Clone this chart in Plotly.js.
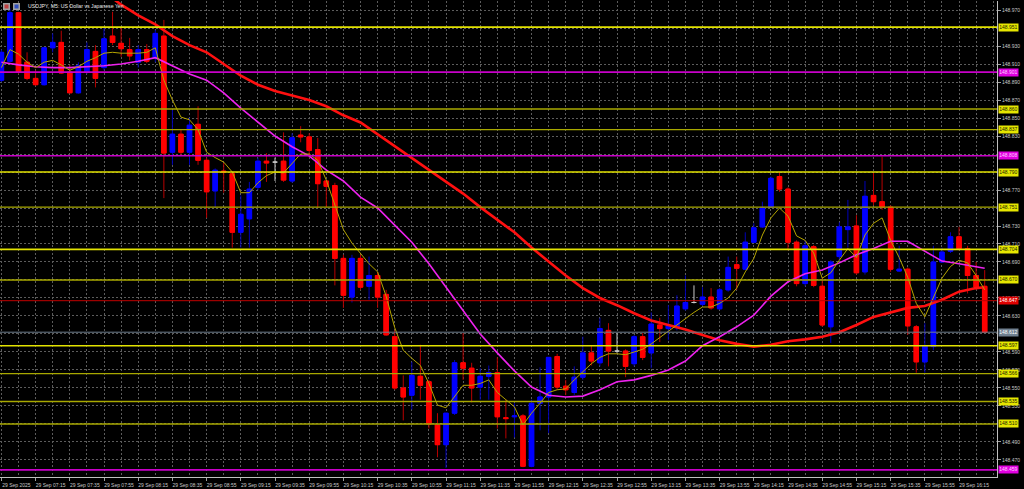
<!DOCTYPE html>
<html><head><meta charset="utf-8">
<script src="https://cdn.plot.ly/plotly-3.0.1.min.js"></script>
<style>html,body{margin:0;padding:0;background:#000;}#chart{width:1024px;height:489px;}</style>
</head><body><div id="chart"></div>
<script>
// ---- data (USDJPY M5, 29 Sep 2025, bar index 0 = 06:55) ----
const tickLabels = ['29 Sep 2025','29 Sep 07:15','29 Sep 07:35','29 Sep 07:55','29 Sep 08:15','29 Sep 08:35','29 Sep 08:55',
 '29 Sep 09:15','29 Sep 09:35','29 Sep 09:55','29 Sep 10:15','29 Sep 10:35','29 Sep 10:55','29 Sep 11:15','29 Sep 11:35',
 '29 Sep 11:55','29 Sep 12:15','29 Sep 12:35','29 Sep 12:55','29 Sep 13:15','29 Sep 13:35','29 Sep 13:55','29 Sep 14:15',
 '29 Sep 14:35','29 Sep 14:55','29 Sep 15:15','29 Sep 15:35','29 Sep 15:55','29 Sep 16:15'];

const opens = [148.892,148.913,148.967,148.912,148.894,148.887,148.928,148.934,148.901,148.878,
 148.901,148.924,148.906,148.941,148.933,148.926,148.912,148.926,148.917,148.941,
 148.812,148.832,148.812,148.843,148.803,148.769,148.791,148.788,148.723,148.738,
 148.773,148.802,148.801,148.802,148.780,148.831,148.829,148.815,148.780,148.775,
 148.694,148.651,148.694,148.663,148.675,148.654,148.607,148.550,148.542,148.563,
 148.557,148.509,148.487,148.522,148.578,148.572,148.551,148.563,148.567,148.517,
 148.518,148.519,148.463,148.533,148.540,148.585,148.552,148.545,148.562,148.589,
 148.578,148.614,148.591,148.591,148.577,148.607,148.589,148.620,148.616,148.617,
 148.638,148.645,148.643,148.651,148.638,148.659,148.687,148.682,148.712,148.729,
 148.751,148.785,148.771,148.712,148.666,148.707,148.663,148.618,148.696,148.726,
 148.730,148.679,148.764,148.757,148.751,148.680,148.682,148.618,148.579,148.596,
 148.690,148.702,148.718,148.705,148.675,148.663];
const highs = [148.926,148.972,148.968,148.923,148.903,148.929,148.944,148.947,148.909,148.912,
 148.934,148.931,148.950,148.968,148.951,148.939,148.931,148.932,148.948,148.959,
 148.859,148.837,148.850,148.863,148.806,148.794,148.800,148.790,148.764,148.779,
 148.806,148.811,148.806,148.834,148.833,148.841,148.833,148.828,148.781,148.778,
 148.698,148.698,148.698,148.696,148.679,148.659,148.614,148.564,148.579,148.598,
 148.559,148.522,148.522,148.581,148.611,148.578,148.572,148.575,148.584,148.537,
 148.533,148.521,148.537,148.573,148.584,148.588,148.559,148.574,148.607,148.597,
 148.628,148.622,148.611,148.593,148.609,148.611,148.634,148.628,148.642,148.653,
 148.675,148.664,148.662,148.661,148.661,148.696,148.696,148.723,148.733,148.757,
 148.785,148.790,148.773,148.714,148.714,148.709,148.672,148.692,148.734,148.759,
 148.742,148.780,148.789,148.807,148.753,148.708,148.684,148.620,148.622,148.708,
 148.706,148.723,148.729,148.708,148.690,148.681];
const lows = [148.890,148.912,148.899,148.892,148.886,148.886,148.923,148.899,148.878,148.877,
 148.899,148.884,148.903,148.931,148.918,148.914,148.906,148.911,148.912,148.761,
 148.798,148.809,148.798,148.798,148.739,148.750,148.767,148.706,148.706,148.706,
 148.770,148.779,148.780,148.779,148.778,148.823,148.806,148.750,148.751,148.664,
 148.639,148.645,148.659,148.648,148.639,148.608,148.548,148.514,148.526,148.537,
 148.505,148.473,148.461,148.520,148.559,148.534,148.537,148.537,148.505,148.494,
 148.495,148.462,148.462,148.503,148.500,148.548,148.542,148.542,148.559,148.575,
 148.574,148.574,148.589,148.562,148.574,148.581,148.572,148.601,148.603,148.614,
 148.636,148.644,148.641,148.637,148.637,148.657,148.659,148.681,148.711,148.728,
 148.750,148.768,148.703,148.663,148.663,148.662,148.618,148.600,148.692,148.706,
 148.676,148.676,148.753,148.748,148.679,148.679,148.609,148.567,148.567,148.592,
 148.689,148.700,148.703,148.655,148.659,148.612];
const closes = [148.923,148.967,148.901,148.894,148.887,148.928,148.934,148.900,148.878,148.908,
 148.926,148.894,148.938,148.934,148.927,148.919,148.926,148.913,148.944,148.811,
 148.832,148.812,148.842,148.803,148.768,148.792,148.790,148.723,148.743,148.771,
 148.802,148.800,148.801,148.781,148.828,148.829,148.814,148.777,148.774,148.694,
 148.653,148.694,148.662,148.675,148.651,148.609,148.550,148.540,148.564,148.553,
 148.510,148.487,148.522,148.578,148.572,148.550,148.563,148.567,148.518,148.516,
 148.519,148.463,148.533,148.540,148.584,148.551,148.548,148.562,148.589,148.580,
 148.616,148.591,148.591,148.574,148.607,148.584,148.621,148.616,148.619,148.641,
 148.645,148.645,148.651,148.639,148.659,148.684,148.683,148.712,148.728,148.750,
 148.783,148.771,148.712,148.666,148.708,148.664,148.620,148.690,148.729,148.729,
 148.678,148.763,148.757,148.751,148.682,148.682,148.619,148.579,148.597,148.690,
 148.701,148.718,148.705,148.675,148.662,148.612];

// fast moving average (olive), one reading per bar
const fastMA = [148.906,148.926,148.921,148.912,148.906,148.912,148.914,148.909,148.903,148.907,
 148.913,148.917,148.922,148.923,148.922,148.922,148.922,148.923,148.928,148.892,
 148.870,148.851,148.848,148.837,148.812,148.806,148.801,148.790,148.767,148.767,
 148.778,148.786,148.790,148.789,148.800,148.810,148.810,148.803,148.781,148.753,
 148.726,148.711,148.700,148.688,148.679,148.652,148.617,148.592,148.583,148.575,
 148.555,148.531,148.528,148.541,148.553,148.553,148.555,148.559,148.545,148.537,
 148.529,148.509,148.522,148.533,148.545,148.548,148.549,148.559,148.568,148.577,
 148.584,148.588,148.588,148.587,148.590,148.593,148.599,148.606,148.613,148.620,
 148.628,148.634,148.640,148.640,148.644,148.650,148.661,148.679,148.694,148.720,
 148.739,148.750,148.741,148.719,148.714,148.700,148.672,148.678,148.692,148.705,
 148.695,148.720,148.733,148.739,148.714,148.695,148.673,148.644,148.629,148.651,
 148.672,148.685,148.692,148.689,148.675,148.659];

// medium moving average (magenta), read every second bar
const midMABars = [0,2,4,6,8,10,12,14,16,18,20,22,24,26,28,30,32,34,36,38,40,42,44,46,48,50,52,54,56,58,
 60,62,64,66,68,70,72,74,76,78,80,82,84,86,88,90,92,94,96,98,100,102,104,106,108,110,112,114,115];
const midMA = [148.912,148.909,148.907,148.906,148.906,148.907,148.908,148.910,148.913,148.917,
 148.908,148.899,148.892,148.878,148.861,148.845,148.830,148.818,148.808,148.792,
 148.780,148.762,148.750,148.731,148.712,148.688,148.662,148.635,148.610,148.589,
 148.569,148.551,148.542,148.540,148.541,148.548,148.557,148.559,148.564,148.570,
 148.580,148.597,148.607,148.618,148.631,148.652,148.668,148.677,148.681,148.689,
 148.698,148.705,148.713,148.713,148.702,148.691,148.688,148.685,148.683];

// slow moving average (red, thick), read every second bar
const slowMABars = [12,14,16,18,20,22,24,26,28,30,32,34,36,38,40,42,44,46,48,50,52,54,56,58,
 60,62,64,66,68,70,72,74,76,78,80,82,84,86,88,90,92,94,96,98,100,102,104,106,108,110,112,114,115];
const slowMA = [148.990,148.976,148.964,148.954,148.941,148.931,148.923,148.910,148.897,148.887,
 148.880,148.875,148.870,148.863,148.853,148.845,148.832,148.819,148.806,148.792,
 148.779,148.766,148.751,148.737,148.723,148.706,148.690,148.675,148.661,148.650,
 148.642,148.633,148.625,148.620,148.615,148.609,148.603,148.599,148.596,148.598,
 148.602,148.604,148.607,148.612,148.620,148.629,148.634,148.639,148.641,148.648,
 148.657,148.661,148.662];

// horizontal levels
const yellowMajor = [148.951,148.790,148.704,148.597];
const yellowMinor = [148.860,148.837,148.751,148.670,148.566,148.535,148.510];
const magentaLevels = [148.901,148.808,148.459];
const redLevels = [148.647];
const bidLevels = [148.612];

const titleText = 'USDJPY, M5: US Dollar vs Japanese Yen';

// ---- build ----
const FONT = 'Liberation Sans, Arial, sans-serif';
const idx = closes.map((_, i) => i);
const dojiIdx = idx.filter(i => opens[i] === closes[i]);
const candIdx = idx.filter(i => opens[i] !== closes[i]);
const pick = (arr, ids) => ids.map(i => arr[i]);

const cO = pick(opens, candIdx), cH = pick(highs, candIdx), cL = pick(lows, candIdx), cC = pick(closes, candIdx);

const traces = [
 { type:'candlestick', x:candIdx, open:cO, high:cH, low:cL, close:cC,
   increasing:{line:{color:'#0000b8',width:1}, fillcolor:'#0000ff'},
   decreasing:{line:{color:'#b80000',width:1}, fillcolor:'#ff0000'},
   hoverinfo:'skip', showlegend:false },
 { type:'candlestick', x:candIdx, open:cO, close:cC,
   high:cO.map((o,k)=>Math.max(o,cC[k])), low:cO.map((o,k)=>Math.min(o,cC[k])),
   increasing:{line:{color:'#0000ff',width:1}, fillcolor:'#0000ff'},
   decreasing:{line:{color:'#ff0000',width:1}, fillcolor:'#ff0000'},
   hoverinfo:'skip', showlegend:false },
 { type:'candlestick', x:dojiIdx, open:pick(opens,dojiIdx), high:pick(highs,dojiIdx),
   low:pick(lows,dojiIdx), close:pick(closes,dojiIdx),
   increasing:{line:{color:'#c8c8c8',width:1}, fillcolor:'#c8c8c8'},
   decreasing:{line:{color:'#c8c8c8',width:1}, fillcolor:'#c8c8c8'},
   hoverinfo:'skip', showlegend:false },
 { type:'scatter', mode:'lines', x:slowMABars, y:slowMA, line:{color:'#ff1010',width:2.6}, hoverinfo:'skip', showlegend:false },
 { type:'scatter', mode:'lines', x:midMABars, y:midMA, line:{color:'#ee22ee',width:1.6}, hoverinfo:'skip', showlegend:false },
 { type:'scatter', mode:'lines', x:idx, y:fastMA, line:{color:'#b4a400',width:1}, hoverinfo:'skip', showlegend:false }
];

const allLevels = [...yellowMajor, ...yellowMinor, ...magentaLevels, ...redLevels, ...bidLevels];

const hline = (y, color, width) => ({type:'line', xref:'paper', x0:0, x1:1, yref:'y', y0:y, y1:y,
  line:{color, width}, layer:'above'});
const shapes = [
 ...yellowMinor.map(v => hline(v, '#a8a800', 1.3)),
 ...yellowMajor.map(v => hline(v, '#e2e200', 1.6)),
 ...magentaLevels.map(v => hline(v, '#c800c8', 1.6)),
 ...redLevels.map(v => hline(v, '#c00000', 1)),
 ...bidLevels.map(v => hline(v, '#6f7f8f', 1))
];

const box = (v, bg, fg) => ({xref:'paper', x:1, xanchor:'left', xshift:1, yref:'y', y:v, yanchor:'middle',
  text:v.toFixed(3), showarrow:false, bgcolor:bg, borderpad:0.3, font:{family:FONT, size:5, color:fg}});
const annotations = [
 ...yellowMinor.map(v => box(v, '#e6e600', '#202000')),
 ...yellowMajor.map(v => box(v, '#e6e600', '#202000')),
 ...magentaLevels.map(v => box(v, '#e000e0', '#ffd0ff')),
 ...redLevels.map(v => box(v, '#e00000', '#ffffff')),
 ...bidLevels.map(v => box(v, '#708090', '#ffffff')),
 {xref:'paper', yref:'paper', x:26/997, y:1 - 5/476, xanchor:'left', yanchor:'middle', showarrow:false,
  text:titleText, font:{family:FONT, size:5.2, color:'#e8e8e8'}}
];

// price scale: every 0.020, the labels hidden under a level box are left out (as on the terminal)
const priceTicks = [];
for (let k = 0; k <= 25; k++) priceTicks.push(+(148.47 + 0.02*k).toFixed(3));
const shownTicks = priceTicks.filter(t => !allLevels.some(l => Math.abs(l - t) < 0.0025));

// two little chart-window icons before the title
const px = v => v/997, py = v => 1 - (v-1)/476;
shapes.push(
 {type:'rect', xref:'paper', yref:'paper', x0:px(3), x1:px(10), y0:py(10), y1:py(3), fillcolor:'#a0a0a0', line:{width:0}, layer:'above'},
 {type:'rect', xref:'paper', yref:'paper', x0:px(4.5), x1:px(8.5), y0:py(8.5), y1:py(4.5), fillcolor:'#c04040', line:{width:0}, layer:'above'},
 {type:'rect', xref:'paper', yref:'paper', x0:px(13), x1:px(20), y0:py(10), y1:py(3), fillcolor:'#a0a0a0', line:{width:0}, layer:'above'},
 {type:'rect', xref:'paper', yref:'paper', x0:px(14.5), x1:px(18.5), y0:py(8.5), y1:py(4.5), fillcolor:'#3050c0', line:{width:0}, layer:'above'}
);

const gridStyle = {gridcolor:'#5c5c5c', griddash:'2px,2px', gridwidth:1};
const layout = {
 width:1024, height:489, paper_bgcolor:'#000000', plot_bgcolor:'#000000',
 margin:{l:0, r:27, t:1, b:12}, showlegend:false, boxmode:'overlay', boxgap:0.25,
 xaxis:{range:[-0.164, 116.44], rangeslider:{visible:false}, fixedrange:true,
   tickmode:'array', tickvals:tickLabels.map((_, k) => k*4), ticktext:tickLabels,
   tickfont:{family:FONT, size:5, color:'#c8c8c8'}, ticks:'outside', ticklen:3, tickcolor:'#a0a0a0',
   ticklabelshift:15, ticklabelstandoff:0,
   showline:true, linecolor:'#c0c0c0', linewidth:1, zeroline:false,
   showgrid:true, ...gridStyle,
   minor:{tickmode:'linear', tick0:0, dtick:2, showgrid:true, ...gridStyle, ticks:''}},
 yaxis:{side:'right', range:[148.4511, 148.9800], fixedrange:true,
   tickmode:'array', tickvals:shownTicks, ticktext:shownTicks.map(t => t.toFixed(3)),
   tickfont:{family:FONT, size:5, color:'#c8c8c8'}, ticks:'outside', ticklen:3, tickcolor:'#a0a0a0',
   showline:true, linecolor:'#c0c0c0', linewidth:1, zeroline:false, showgrid:true, ...gridStyle,
   minor:{tickmode:'array', tickvals:priceTicks, showgrid:true, ...gridStyle, ticks:''}},
 shapes, annotations
};

Plotly.newPlot('chart', traces, layout, {displayModeBar:false, staticPlot:true});
</script>
</body></html>
